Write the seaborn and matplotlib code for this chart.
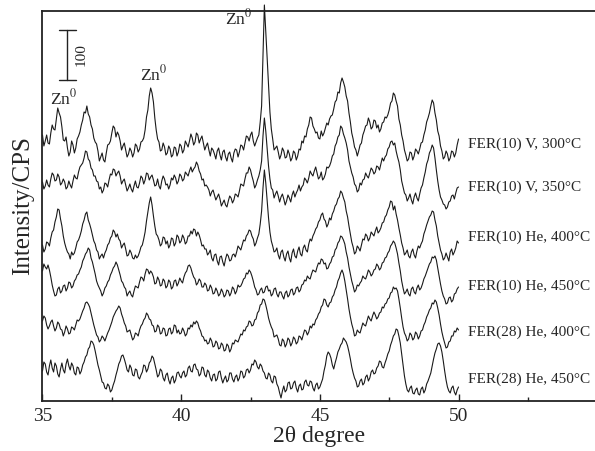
import numpy as np
import pandas as pd
import seaborn as sns
import matplotlib.pyplot as plt
from matplotlib.ticker import MultipleLocator

# 2theta grid, 0.05 degree steps from 35 to 50
two_theta = np.round(np.arange(700, 1001) / 20, 2)

samples = [
    'FER(10) V, 300°C', 'FER(10) V, 350°C', 'FER(10) He, 400°C',
    'FER(10) He, 450°C', 'FER(28) He, 400°C', 'FER(28) He, 450°C',
]

# intensities (counts), one row per degree
fer10_v_300 = [
    92, 70, 80, 92, 76, 74, 96, 112, 104, 102, 124, 146, 136, 128, 108, 82, 80, 88, 66, 50,
    58, 80, 72, 56, 66, 84, 90, 98, 112, 122, 138, 136, 150, 134, 128, 112, 104, 86, 78, 74,
    60, 40, 48, 56, 42, 38, 56, 72, 74, 80, 96, 110, 106, 88, 98, 92, 80, 62, 70, 76,
    62, 48, 54, 66, 60, 48, 56, 74, 70, 58, 64, 78, 80, 86, 102, 128, 142, 170, 186, 176,
    158, 126, 102, 84, 78, 60, 62, 76, 68, 52, 56, 70, 64, 48, 52, 68, 66, 50, 58, 74,
    70, 56, 62, 80, 74, 68, 80, 94, 86, 72, 78, 96, 92, 76, 84, 90, 76, 62, 70, 76,
    62, 50, 66, 62, 54, 44, 60, 66, 52, 42, 58, 62, 48, 40, 54, 58, 46, 38, 56, 64,
    62, 48, 58, 72, 70, 62, 76, 90, 88, 80, 92, 98, 80, 70, 78, 86, 92, 118, 150, 250,
    352, 300, 246, 190, 138, 104, 84, 62, 66, 70, 58, 44, 52, 66, 60, 46, 48, 62, 54, 40,
    46, 60, 56, 42, 50, 64, 62, 80, 76, 90, 88, 104, 112, 128, 126, 110, 104, 96, 98, 86,
    84, 100, 90, 96, 106, 116, 112, 124, 130, 132, 144, 158, 162, 178, 176, 196, 206, 198, 188, 170,
    160, 136, 118, 96, 84, 68, 62, 50, 60, 72, 76, 92, 100, 110, 112, 126, 118, 104, 108, 122,
    120, 106, 112, 98, 104, 116, 118, 128, 126, 132, 142, 156, 160, 176, 172, 160, 150, 124, 112, 92,
    80, 62, 52, 40, 44, 58, 56, 42, 50, 64, 60, 54, 64, 76, 78, 92, 102, 118, 126, 136,
    150, 162, 156, 136, 122, 100, 90, 70, 60, 44, 48, 60, 54, 40, 46, 60, 58, 48, 56, 72,
    84,
]
fer10_v_350 = [
    68, 54, 60, 72, 62, 58, 74, 86, 82, 70, 72, 84, 78, 62, 66, 74, 68, 54, 58, 70,
    62, 56, 70, 82, 76, 74, 88, 98, 102, 106, 116, 130, 128, 114, 110, 96, 92, 80, 80, 70,
    68, 54, 58, 46, 52, 66, 64, 58, 72, 84, 82, 94, 92, 80, 86, 90, 80, 64, 70, 74,
    62, 50, 56, 64, 54, 48, 60, 70, 58, 56, 66, 80, 76, 64, 72, 86, 84, 72, 78, 82,
    72, 60, 62, 74, 60, 54, 70, 80, 74, 62, 64, 54, 62, 76, 72, 82, 76, 64, 70, 84,
    80, 70, 74, 88, 84, 80, 90, 98, 88, 94, 98, 108, 102, 90, 84, 72, 74, 60, 62, 58,
    52, 40, 48, 52, 42, 32, 38, 44, 34, 20, 26, 32, 22, 18, 30, 40, 36, 26, 32, 44,
    42, 38, 50, 64, 62, 60, 74, 86, 86, 98, 92, 80, 70, 56, 62, 72, 80, 92, 110, 160,
    196, 170, 136, 100, 74, 56, 52, 36, 44, 50, 40, 28, 38, 44, 34, 22, 30, 42, 36, 28,
    42, 50, 38, 46, 52, 62, 50, 58, 62, 76, 72, 66, 76, 90, 84, 80, 90, 98, 86, 74,
    78, 88, 72, 76, 84, 98, 96, 100, 108, 120, 124, 140, 146, 158, 162, 180, 176, 164, 156, 146,
    132, 110, 98, 86, 78, 64, 60, 48, 52, 66, 62, 72, 74, 86, 80, 76, 86, 96, 92, 84,
    88, 100, 98, 92, 104, 116, 110, 118, 122, 134, 138, 148, 150, 142, 146, 130, 118, 108, 92, 70,
    58, 46, 42, 30, 36, 44, 32, 24, 38, 46, 36, 30, 44, 56, 62, 76, 88, 104, 112, 126,
    132, 142, 136, 116, 92, 70, 52, 38, 32, 24, 22, 14, 18, 28, 30, 40, 42, 34, 46, 56,
    58,
]
fer10_he_400 = [
    62, 48, 54, 68, 66, 60, 76, 88, 92, 108, 118, 134, 132, 114, 100, 80, 66, 56, 48, 44,
    34, 48, 42, 46, 56, 68, 72, 80, 90, 104, 112, 124, 128, 112, 104, 94, 82, 70, 64, 52,
    48, 34, 40, 44, 36, 46, 52, 62, 66, 76, 80, 92, 88, 78, 84, 74, 70, 56, 62, 66,
    54, 40, 42, 52, 46, 36, 34, 42, 36, 40, 48, 58, 62, 74, 88, 110, 128, 146, 158, 142,
    120, 100, 84, 80, 72, 60, 64, 78, 76, 64, 70, 56, 62, 76, 74, 60, 66, 82, 78, 66,
    70, 82, 76, 64, 68, 80, 80, 90, 84, 94, 92, 80, 88, 82, 72, 60, 62, 54, 54, 42,
    46, 52, 36, 30, 42, 44, 30, 22, 38, 40, 28, 20, 34, 44, 40, 30, 32, 42, 44, 38,
    48, 60, 56, 52, 62, 72, 70, 80, 84, 92, 90, 80, 74, 60, 66, 76, 84, 104, 130, 176,
    212, 186, 150, 116, 88, 70, 60, 48, 50, 56, 42, 34, 48, 52, 38, 30, 44, 50, 36, 28,
    46, 54, 40, 36, 50, 58, 44, 40, 56, 62, 52, 48, 64, 74, 70, 80, 86, 94, 98, 108,
    112, 122, 126, 114, 110, 98, 104, 116, 112, 124, 130, 140, 144, 154, 158, 170, 166, 156, 148, 130,
    118, 100, 84, 68, 58, 44, 48, 60, 56, 50, 62, 74, 72, 84, 80, 70, 76, 88, 84, 80,
    90, 98, 86, 90, 96, 106, 108, 118, 122, 132, 138, 150, 148, 132, 140, 124, 112, 96, 82, 66,
    56, 42, 46, 52, 40, 36, 48, 54, 42, 36, 50, 60, 56, 64, 70, 84, 92, 102, 110, 118,
    122, 130, 128, 112, 100, 80, 66, 52, 44, 32, 36, 46, 38, 30, 48, 54, 42, 48, 56, 70,
    66,
]
fer10_he_450 = [
    90, 104, 98, 94, 102, 92, 78, 62, 50, 40, 42, 54, 58, 46, 50, 60, 62, 50, 56, 68,
    66, 56, 60, 70, 74, 82, 84, 92, 98, 110, 116, 124, 128, 136, 132, 116, 108, 96, 84, 70,
    62, 56, 50, 40, 46, 56, 60, 68, 72, 82, 88, 96, 100, 108, 102, 92, 82, 70, 66, 58,
    54, 40, 46, 50, 42, 38, 50, 60, 58, 56, 68, 78, 76, 70, 84, 94, 92, 84, 90, 86,
    78, 64, 66, 78, 72, 60, 62, 74, 70, 56, 60, 72, 68, 54, 58, 70, 72, 60, 66, 76,
    70, 66, 78, 86, 90, 100, 102, 96, 86, 78, 74, 62, 66, 74, 70, 58, 58, 66, 62, 50,
    52, 62, 56, 44, 46, 56, 50, 40, 44, 54, 48, 38, 42, 52, 50, 40, 46, 58, 54, 44,
    50, 62, 58, 60, 66, 74, 76, 86, 84, 92, 88, 80, 70, 58, 52, 42, 44, 52, 56, 46,
    48, 58, 60, 50, 52, 40, 44, 54, 56, 44, 38, 48, 48, 40, 34, 46, 50, 38, 42, 52,
    54, 42, 46, 56, 58, 48, 52, 62, 64, 72, 70, 80, 76, 74, 84, 92, 90, 88, 98, 106,
    104, 114, 112, 104, 106, 94, 96, 104, 108, 118, 120, 132, 136, 146, 150, 160, 158, 152, 144, 128,
    116, 98, 84, 70, 60, 48, 52, 62, 60, 66, 70, 80, 76, 74, 82, 92, 88, 80, 84, 92,
    94, 104, 100, 92, 96, 106, 108, 116, 118, 126, 130, 140, 144, 150, 146, 136, 124, 106, 90, 70,
    56, 44, 48, 54, 44, 40, 54, 58, 48, 44, 56, 62, 52, 56, 64, 74, 80, 88, 96, 104,
    108, 118, 116, 120, 112, 96, 80, 64, 50, 40, 34, 24, 26, 36, 38, 28, 32, 44, 46, 54,
    58,
]
fer28_he_400 = [
    80, 90, 86, 72, 64, 70, 78, 82, 70, 60, 66, 78, 74, 64, 62, 50, 58, 70, 64, 54,
    56, 68, 66, 62, 72, 82, 80, 84, 92, 100, 106, 116, 118, 114, 108, 96, 84, 72, 62, 52,
    48, 38, 42, 50, 46, 40, 48, 56, 62, 70, 78, 88, 94, 100, 104, 110, 106, 94, 86, 76,
    70, 58, 60, 62, 52, 42, 46, 56, 54, 50, 62, 70, 74, 82, 86, 96, 92, 84, 82, 72,
    70, 58, 60, 72, 68, 54, 56, 66, 64, 50, 52, 64, 66, 54, 58, 72, 70, 56, 62, 54,
    56, 66, 60, 50, 54, 66, 64, 72, 68, 78, 74, 80, 76, 66, 60, 50, 48, 40, 42, 34,
    36, 46, 40, 28, 30, 40, 36, 24, 26, 36, 32, 20, 22, 34, 30, 18, 24, 36, 34, 42,
    40, 38, 46, 54, 52, 62, 60, 68, 70, 80, 78, 70, 72, 82, 84, 96, 100, 112, 114, 124,
    122, 112, 100, 86, 76, 68, 62, 48, 50, 52, 44, 32, 30, 44, 40, 28, 34, 46, 42, 30,
    36, 48, 44, 34, 38, 50, 48, 42, 52, 62, 60, 52, 58, 70, 66, 74, 72, 82, 86, 94,
    98, 108, 112, 124, 122, 112, 108, 116, 118, 128, 132, 142, 148, 160, 166, 176, 182, 174, 160, 142,
    124, 104, 88, 74, 64, 50, 52, 62, 58, 56, 66, 76, 72, 70, 80, 90, 84, 80, 90, 98,
    92, 84, 88, 96, 98, 108, 106, 114, 116, 124, 126, 136, 138, 148, 144, 146, 140, 124, 106, 86,
    68, 56, 50, 40, 44, 56, 52, 42, 46, 58, 54, 44, 50, 60, 62, 72, 78, 88, 94, 102,
    106, 116, 114, 122, 118, 106, 92, 74, 58, 46, 36, 26, 28, 38, 40, 50, 50, 60, 58, 66,
    62,
]
fer28_he_450 = [
    60, 78, 74, 58, 52, 70, 82, 66, 58, 76, 70, 54, 48, 64, 76, 62, 56, 74, 84, 70,
    62, 76, 70, 56, 52, 68, 66, 54, 60, 72, 78, 88, 92, 104, 108, 120, 118, 112, 100, 86,
    72, 62, 50, 38, 36, 26, 24, 34, 30, 18, 22, 32, 40, 52, 62, 74, 80, 90, 92, 84,
    74, 62, 58, 72, 66, 52, 50, 64, 62, 48, 44, 52, 58, 72, 70, 58, 64, 76, 80, 90,
    86, 74, 62, 48, 52, 64, 60, 46, 40, 52, 56, 42, 34, 46, 50, 36, 42, 56, 58, 50,
    46, 56, 60, 48, 52, 66, 70, 60, 58, 72, 74, 64, 62, 50, 54, 68, 66, 52, 48, 62,
    58, 46, 40, 52, 54, 40, 44, 58, 60, 46, 36, 44, 50, 38, 42, 56, 56, 44, 38, 48,
    52, 40, 46, 60, 58, 46, 50, 62, 64, 56, 62, 74, 72, 82, 78, 68, 64, 74, 70, 60,
    56, 46, 44, 56, 52, 40, 36, 50, 48, 34, 28, 16, 6, 20, 30, 18, 22, 36, 38, 24,
    26, 36, 40, 26, 18, 30, 34, 22, 24, 38, 42, 32, 30, 40, 38, 26, 20, 32, 36, 24,
    28, 36, 44, 60, 72, 90, 98, 94, 86, 72, 64, 76, 86, 98, 104, 112, 116, 126, 122, 118,
    110, 98, 84, 68, 56, 46, 40, 28, 30, 40, 44, 32, 36, 48, 52, 40, 46, 58, 62, 54,
    56, 66, 70, 80, 78, 68, 66, 76, 84, 94, 100, 112, 120, 130, 134, 144, 142, 130, 116, 94,
    72, 50, 34, 22, 18, 26, 30, 16, 14, 22, 26, 14, 12, 24, 28, 16, 22, 34, 40, 48,
    56, 70, 84, 96, 104, 114, 116, 110, 98, 80, 60, 42, 28, 20, 16, 26, 30, 18, 12, 22,
    28,
]
patterns = [fer10_v_300, fer10_v_350, fer10_he_400,
            fer10_he_450, fer28_he_400, fer28_he_450]

# vertical stacking of the patterns (counts)
offsets = [440, 370, 250, 170, 80, 0]
label_lift = [74, 58, 78, 60, 58, 44]

rows = []
for name, vals, off in zip(samples, patterns, offsets):
    for t, v in zip(two_theta, vals):
        rows.append((name, t, v + off))
df = pd.DataFrame(rows, columns=['sample', 'two_theta', 'intensity'])

sns.set_theme(style='white')
plt.rcParams['font.family'] = ['Liberation Serif', 'DejaVu Serif']
plt.rcParams['mathtext.fontset'] = 'stix'

fig = plt.figure(figsize=(5.95, 4.51), dpi=100)
ax = fig.add_axes([0.0714, 0.1109, 0.9286, 0.8647])
sns.lineplot(data=df, x='two_theta', y='intensity', units='sample',
             estimator=None, color='#1a1a1a', lw=0.8, ax=ax, legend=False)
for line in ax.lines:
    line.set_clip_on(False)

ax.set_xlim(35, 54.92)
ax.set_ylim(0, 780)
ax.xaxis.set_major_locator(MultipleLocator(5))
ax.xaxis.set_minor_locator(MultipleLocator(2.5))
ax.tick_params(axis='x', which='both', direction='in', bottom=True, top=False,
               labelsize=14, pad=5, color='#222222')
ax.tick_params(axis='x', which='major', length=5, width=1)
ax.tick_params(axis='x', which='minor', length=3, width=1)
ax.set_yticks([])
ax.spines['right'].set_visible(False)
for s in ['left', 'bottom', 'top']:
    ax.spines[s].set_linewidth(1.3)
    ax.spines[s].set_color('#222222')

ax.set_xlabel('2θ degree', fontsize=17, labelpad=1)
ax.set_ylabel('Intensity/CPS', fontsize=18, labelpad=6)

# sample names at the right end of each pattern
for name, off, lift in zip(samples, offsets, label_lift):
    ax.text(50.34, off + lift, name, fontsize=11, va='center', ha='left')

# Zn0 reflections
ax.text(35.78, 606, 'Zn$^{0}$', fontsize=12.5, ha='center', va='center')
ax.text(39.02, 654, 'Zn$^{0}$', fontsize=12.5, ha='center', va='center')
ax.text(42.08, 766, 'Zn$^{0}$', fontsize=12.5, ha='center', va='center')

# 100 counts scale bar
ax.plot([35.89, 35.89], [642, 742], color='#222222', lw=1)
ax.plot([35.59, 36.21], [742, 742], color='#222222', lw=1)
ax.plot([35.59, 36.21], [642, 642], color='#222222', lw=1)
ax.text(36.41, 692, '100', rotation=90, fontsize=11, ha='center', va='center')

fig.savefig('out.png', dpi=100)
